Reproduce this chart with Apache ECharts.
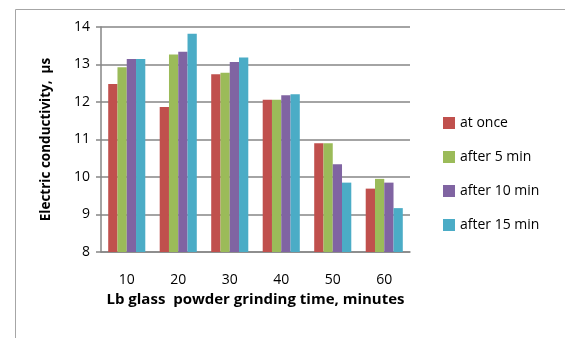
<!DOCTYPE html>
<html><head><meta charset="utf-8">
<script src="https://cdn.jsdelivr.net/npm/echarts@6/dist/echarts.min.js"></script>
<style>html,body{margin:0;padding:0;background:#fff}#c{width:565px;height:338px}</style>
</head><body><div id="c"></div>
<script>
const categories = ['10','20','30','40','50','60'];
const seriesNames = ['at once','after 5 min','after 10 min','after 15 min'];
const atOnce = [12.48, 11.87, 12.74, 12.06, 10.90, 9.69];
const after5 = [12.93, 13.27, 12.78, 12.06, 10.90, 9.95];
const after10 = [13.15, 13.34, 13.07, 12.18, 10.34, 9.85];
const after15 = [13.15, 13.82, 13.19, 12.21, 9.85, 9.17];
const yTicks = [8, 9, 10, 11, 12, 13, 14];
const colors = ['#C0504D','#9BBB59','#8064A2','#4BACC6'];
const FONT = '"Open Sans", "Noto Sans", sans-serif';
const values = [atOnce, after5, after10, after15];
const chart = echarts.init(document.getElementById('c'), null, {renderer:'canvas'});
chart.setOption({
  animation:false,
  color: colors,
  textStyle:{fontFamily:FONT},
  graphic:[{type:'rect', left:13, top:7, shape:{width:700, height:500}, style:{fill:'none', stroke:'#A6A6A6', lineWidth:1}, z:-1}],
  grid:{left:101, top:27, right:155, bottom:86},
  legend:{orient:'vertical', left:438, top:111, itemWidth:12, itemHeight:12, itemGap:20,
    icon:'rect', textStyle:{fontSize:14, color:'#000', fontFamily:FONT}, data:seriesNames},
  xAxis:{type:'category', data:categories,
    axisLine:{lineStyle:{color:'#868686', width:1.5}}, axisTick:{show:false},
    axisLabel:{fontSize:14, color:'#000', margin:21, fontFamily:FONT},
    name:'Lb glass  powder grinding time, minutes', nameLocation:'middle', nameGap:40,
    nameTextStyle:{fontSize:15, fontWeight:'bold', color:'#000', fontFamily:FONT}},
  yAxis:{type:'value', min:8, max:14, interval:1,
    axisLine:{show:true, lineStyle:{color:'#868686', width:1.5}},
    axisTick:{show:true, length:5, lineStyle:{color:'#868686', width:1.5}},
    splitLine:{lineStyle:{color:'#868686', width:1.5}},
    axisLabel:{fontSize:14, color:'#000', margin:11, fontFamily:FONT,
      formatter: v => yTicks.includes(v) ? String(v) : ''},
    name:'Electric conductivity,  µs', nameLocation:'middle', nameGap:48,
    nameTextStyle:{fontSize:13.5, fontWeight:'bold', color:'#000', fontFamily:FONT}},
  series: seriesNames.map((n,i)=>({name:n, type:'bar', data:values[i], barGap:'0%', barCategoryGap:'28%'}))
});
</script></body></html>
